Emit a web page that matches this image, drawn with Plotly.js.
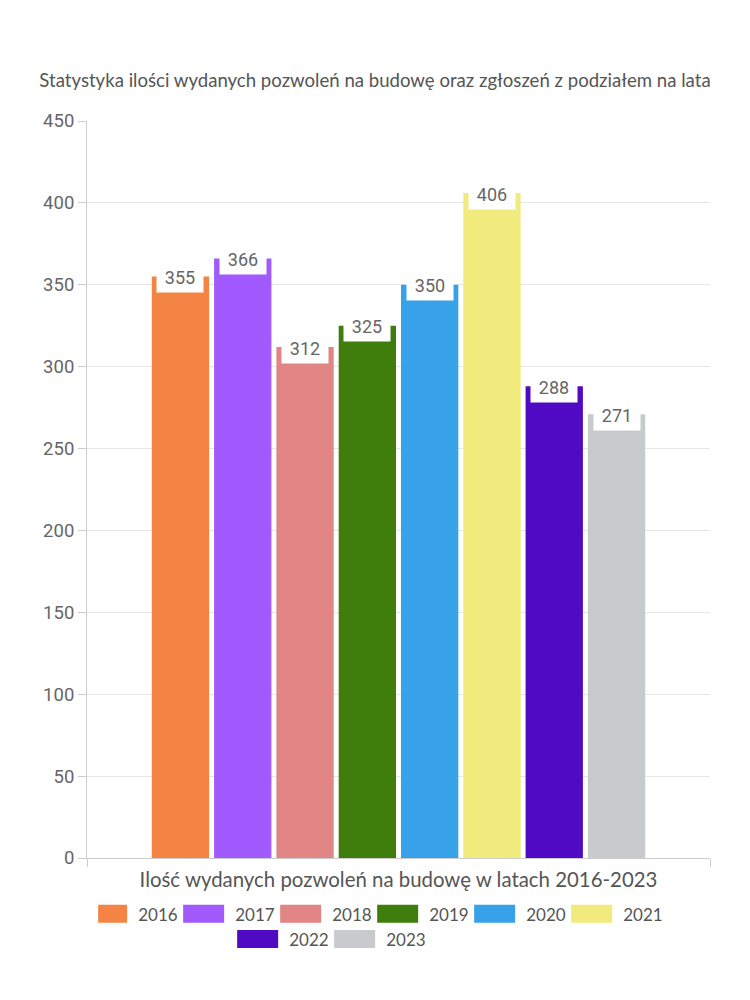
<!DOCTYPE html>
<html><head><meta charset="utf-8">
<script src="https://cdn.plot.ly/plotly-3.0.1.min.js"></script>
<style>body{margin:0;background:#fff}#chart{width:750px;height:1000px}</style>
</head><body><div id="chart"></div>
<script>
const category = ['Ilość wydanych pozwoleń na budowę w latach 2016-2023'];
const years = ['2016','2017','2018','2019','2020','2021','2022','2023'];
const values = [355, 366, 312, 325, 350, 406, 288, 271];
const colors = ['#F48443','#A05AFD','#E28585','#3F7D0D','#37A2E9','#F0EB7C','#500AC4','#C9CACE'];
const titleText = 'Statystyka ilości wydanych pozwoleń na budowę oraz zgłoszeń z podziałem na lata';
const yTicks = [0,50,100,150,200,250,300,350,400,450];

const roundFont = 'Lato, "Open Sans", sans-serif';
const numFont = 'Roboto, "Liberation Sans", sans-serif';
const bargap = 0.2;

const traces = years.map((y, i) => ({
  type: 'bar',
  name: y,
  x: [0],
  y: [values[i]],
  marker: {color: colors[i]},
  hoverinfo: 'name+y'
}));

const n = years.length;
const slot = (1 - bargap) / n;
const annotations = values.map((v, i) => ({
  xref: 'x', yref: 'y',
  x: -(1 - bargap) / 2 + (i + 0.5) * slot,
  y: v,
  yanchor: 'middle',
  yshift: -1,
  text: String(v),
  showarrow: false,
  bgcolor: '#ffffff',
  borderpad: 4,
  width: 38,
  font: {family: numFont, size: 18, color: '#666666'}
}));

const layout = {
  width: 750, height: 1000,
  paper_bgcolor: '#ffffff', plot_bgcolor: '#ffffff',
  margin: {l: 87, r: 40, t: 121, b: 142},
  title: {text: titleText, x: 0.5, xanchor: 'center', y: 0.92, yanchor: 'middle',
          font: {family: roundFont, size: 18.6, color: '#555555'}},
  barmode: 'group',
  bargap: bargap,
  bargroupgap: 0.08,
  showlegend: true,
  legend: {orientation: 'h', x: 0.485, xanchor: 'center', y: -0.052, yanchor: 'top',
           entrywidth: 52, entrywidthmode: 'pixels', itemwidth: 30,
           font: {family: roundFont, size: 17, color: '#555555'}},
  xaxis: {
    type: 'linear', range: [-0.5, 0.5],
    tickvals: [-0.5, 0.5], ticktext: ['', ''],
    showgrid: true, gridcolor: '#e6e6e6',
    showline: true, linecolor: '#cccccc',
    ticks: 'outside', ticklen: 8, tickcolor: '#cccccc',
    zeroline: false,
    title: {text: category[0], standoff: 4, font: {family: roundFont, size: 20.4, color: '#555555'}}
  },
  yaxis: {
    range: [0, 450], tickvals: yTicks,
    showgrid: true, gridcolor: '#e6e6e6',
    showline: true, linecolor: '#cccccc',
    ticks: 'outside', ticklen: 8, tickcolor: '#cccccc',
    zeroline: false,
    tickfont: {family: numFont, size: 18.5, color: '#666666'}
  },
  annotations: annotations
};

const SWATCH_W = 41, SWATCH_H = 18, SWATCH_GAP = 11, ROW2_SHIFT = 151;

Plotly.newPlot('chart', traces, layout, {displayModeBar: false}).then(gd => {
  const items = Array.from(gd.querySelectorAll('.legend .traces'));
  items.forEach(item => {
    const path = item.querySelector('.legendpoints path');
    const text = item.querySelector('text.legendtext');
    if (!path || !text) return;
    const pr = path.getBoundingClientRect();
    const cx = pr.left + pr.width / 2;
    const tl = text.getBoundingClientRect().left;
    const right = tl - SWATCH_GAP - cx;
    const left = right - SWATCH_W;
    path.setAttribute('d', `M${right},${SWATCH_H/2}H${left}V${-SWATCH_H/2}H${right}Z`);
  });
  // centre the second legend row
  const ys = items.map(it => it.getBoundingClientRect().top);
  const minY = Math.min(...ys);
  items.forEach((it, k) => {
    if (ys[k] - minY > 5) {
      const t = it.getAttribute('transform') || '';
      const m = t.match(/translate\(\s*([-\d.]+)[ ,]+([-\d.]+)\s*\)/);
      if (m) it.setAttribute('transform', `translate(${parseFloat(m[1]) + ROW2_SHIFT},${m[2]})`);
    }
  });
});
</script></body></html>
